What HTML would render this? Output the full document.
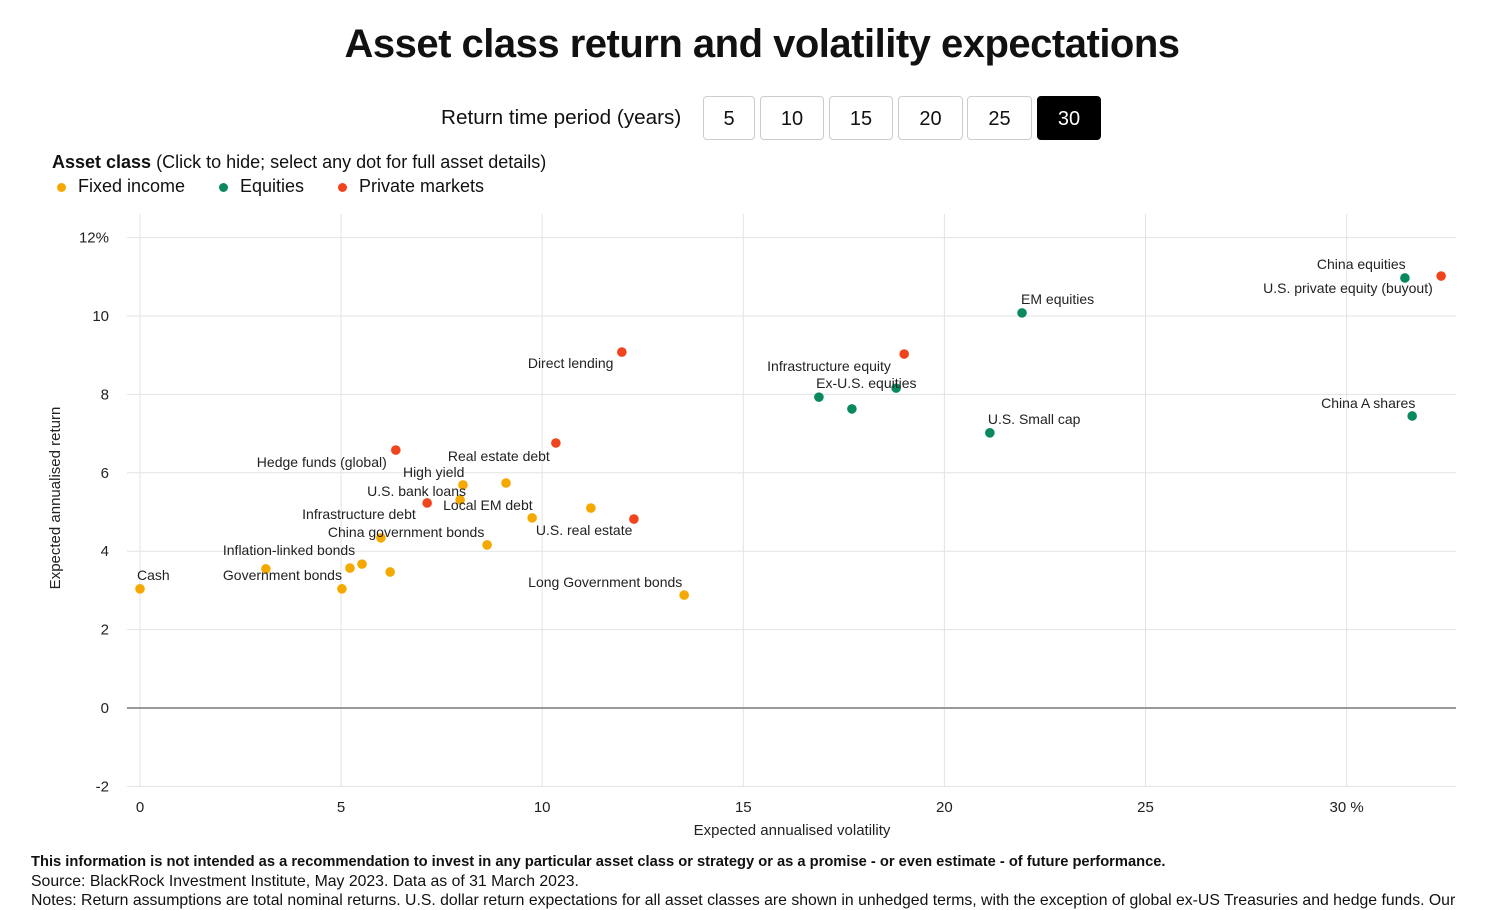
<!DOCTYPE html>
<html><head><meta charset="utf-8">
<style>
body{margin:0;width:1498px;height:907px;overflow:hidden;background:#fff;font-family:"Liberation Sans",sans-serif;color:#111;position:relative}
.abs{position:absolute}
h1{position:absolute;left:0;width:1524px;text-align:center;top:22px;margin:0;font-size:40px;font-weight:900;letter-spacing:-0.5px}
.btn{position:absolute;top:96px;height:44px;border:1px solid #ccc;border-radius:4px;background:#fff;font-size:20px;line-height:44px;text-align:center;box-sizing:border-box}
.btn.on{background:#000;color:#fff;border-color:#000}
.dot{display:inline-block;width:9px;height:9px;border-radius:50%;margin-right:12px;vertical-align:middle}
.foot{position:absolute;left:31px;font-size:14.7px;white-space:nowrap}
</style></head><body>
<h1>Asset class return and volatility expectations</h1>
<div class="abs" style="left:441px;top:106px;font-size:20.7px">Return time period (years)</div>
<div class="btn" style="left:703px;width:52px">5</div>
<div class="btn" style="left:760px;width:64px">10</div>
<div class="btn" style="left:829px;width:64px">15</div>
<div class="btn" style="left:898px;width:65px">20</div>
<div class="btn" style="left:967px;width:65px">25</div>
<div class="btn on" style="left:1037px;width:64px">30</div>
<div class="abs" style="left:52px;top:152px;font-size:18px"><b>Asset class</b> (Click to hide; select any dot for full asset details)</div>
<div class="abs" style="left:57px;top:176px;font-size:18px"><span class="dot" style="background:#f5a800"></span>Fixed income</div>
<div class="abs" style="left:219px;top:176px;font-size:18px"><span class="dot" style="background:#0a8a5c"></span>Equities</div>
<div class="abs" style="left:338px;top:176px;font-size:18px"><span class="dot" style="background:#f0441c"></span>Private markets</div>
<svg class="abs" style="left:0;top:0" width="1498" height="907" id="chart"></svg>
<div class="foot" style="top:854px;font-weight:bold">This information is not intended as a recommendation to invest in any particular asset class or strategy or as a promise - or even estimate - of future performance.</div>
<div class="foot" style="top:873px;font-size:15.8px">Source: BlackRock Investment Institute, May 2023. Data as of 31 March 2023.</div>
<div class="foot" style="top:892px;font-size:15.8px">Notes: Return assumptions are total nominal returns. U.S. dollar return expectations for all asset classes are shown in unhedged terms, with the exception of global ex-US Treasuries and hedge funds. Our</div>
<script>
const xTicks=[0,5,10,15,20,25,30];
const yTicks=[-2,0,2,4,6,8,10,12];
const names=["Cash","Inflation-linked bonds","Government bonds","FI a","FI b","FI c","China government bonds","Hedge funds (global)","Infrastructure debt","U.S. bank loans","High yield","FI d","FI e","Local EM debt","FI f","U.S. real estate","Real estate debt","Direct lending","Long Government bonds","Infrastructure equity","Ex-U.S. equities","EQ a","EQ b","EM equities","U.S. Small cap","China equities","U.S. private equity (buyout)","China A shares"];
const vols=[0,3.13,5.02,5.22,5.52,6.22,5.99,6.36,7.14,7.96,8.03,9.1,8.63,9.75,11.21,12.28,10.34,11.98,13.53,19.0,18.8,16.88,17.7,21.93,21.13,31.45,32.35,31.63];
const rets=[3.04,3.55,3.04,3.57,3.67,3.47,4.34,6.58,5.23,5.31,5.69,5.74,4.16,4.85,5.1,4.82,6.76,9.08,2.88,9.03,8.16,7.93,7.63,10.08,7.02,10.97,11.02,7.45];
const groups=["F","F","F","F","F","F","F","P","P","F","F","F","F","F","F","P","P","P","F","P","E","E","E","E","E","E","P","E"];
const showLabel=[1,1,1,0,0,0,1,1,1,1,1,0,0,1,0,1,1,1,1,1,1,0,0,1,1,1,1,1];
const labelDx=[-3,-43,-119,0,0,0,-53,-139,-125,-93,-60,0,0,-89,0,-98,-108,-94,-156,-137,-80,0,0,-1,-2,-88,-178,-91];
const labelDy=[-9,-14,-9,0,0,0,-1,17,16,-4,-8,0,0,-8,0,16,18,16,-8,17,0,0,0,-9,-9,-9,17,-8];
const colors={F:"#f5a800",E:"#0a8a5c",P:"#f0441c"};
const X=v=>140+v*40.22, Y=v=>708-v*39.2;
const svg=document.getElementById('chart'),NS="http://www.w3.org/2000/svg";
function mk(t,a){const e=document.createElementNS(NS,t);for(const k in a)e.setAttribute(k,a[k]);svg.appendChild(e);return e;}
xTicks.forEach(t=>{const l=mk('line',{x1:X(t),x2:X(t),y1:214,y2:787,stroke:'#e3e3e3'});

const tx=mk('text',{x:X(t),y:812,'text-anchor':'middle','font-size':15,fill:'#222'});tx.textContent=t===30?'30 %':t;
});
yTicks.forEach(t=>{const l=mk('line',{x1:127,x2:1456,y1:Y(t),y2:Y(t),stroke:t===0?'#999':'#e3e3e3','stroke-width':t===0?2:1});

const tx=mk('text',{x:109,y:Y(t)+5,'text-anchor':'end','font-size':15,fill:'#222'});tx.textContent=t===12?'12%':t;
});
let xt=mk('text',{x:792,y:835,'text-anchor':'middle','font-size':15,fill:'#222'});xt.textContent='Expected annualised volatility';

let yt=mk('text',{x:60,y:498,'text-anchor':'middle','font-size':15,fill:'#222',transform:'rotate(-90 60 498)'});yt.textContent='Expected annualised return';

vols.forEach((v,i)=>{const c=mk('circle',{cx:X(v),cy:Y(rets[i]),r:4.8,fill:colors[groups[i]]});
});
vols.forEach((v,i)=>{if(!showLabel[i])return;
const t=mk('text',{x:X(v)+labelDx[i],y:Y(rets[i])+labelDy[i],'text-anchor':'start','font-size':14,fill:'#222'});t.textContent=names[i];
});
</script>
</body></html>
